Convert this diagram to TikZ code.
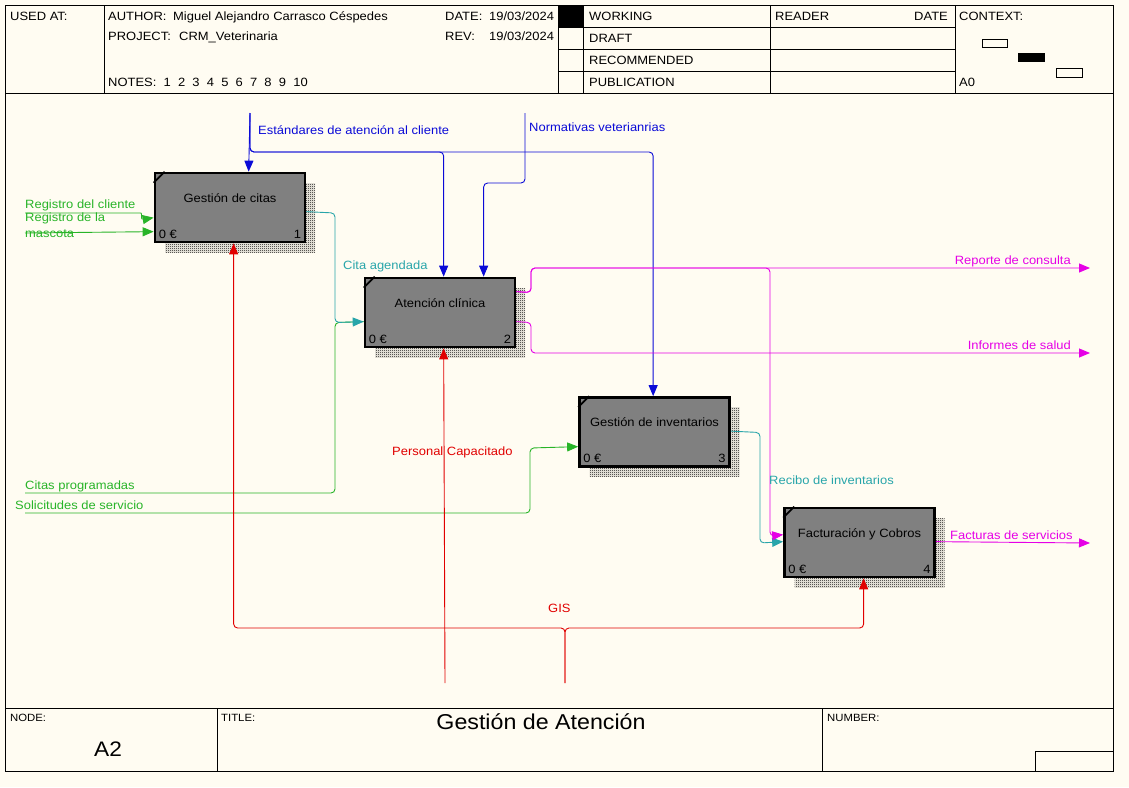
\documentclass[tikz,border=0pt]{standalone}
\usepackage{fontspec}
\setmainfont{Liberation Sans}[FakeStretch=1.08]
\usetikzlibrary{arrows.meta,calc,patterns,patterns.meta}
\definecolor{bgc}{RGB}{255,252,242}
\definecolor{idgreen}{RGB}{40,180,40}
\definecolor{idteal}{RGB}{40,165,170}
\definecolor{idblue}{RGB}{10,10,215}
\definecolor{idmag}{RGB}{230,0,230}
\definecolor{idred}{RGB}{225,0,0}
\definecolor{boxgray}{RGB}{128,128,128}
\pgfdeclarepattern{name=pixcheck, type=uncolored,
  bottom left={\pgfpoint{0pt}{0pt}}, top right={\pgfpoint{2pt}{2pt}},
  tile size={\pgfpoint{2pt}{2pt}},
  code={\pgfpathrectangle{\pgfpoint{0pt}{0pt}}{\pgfpoint{1pt}{1pt}}%
        \pgfpathrectangle{\pgfpoint{1pt}{1pt}}{\pgfpoint{1pt}{1pt}}%
        \pgfusepath{fill}}}
\newcommand{\ProcBox}[5]{%
  \fill[pattern=pixcheck, pattern color=black] (#2-65,#3-24.5) rectangle (#2+85,#3+44.5);
  \node[procbox] (#1) at (#2,#3) {#4};
  \draw[line width=1.8pt] ($(#1.north west)+(0,11)$) -- ($(#1.north west)+(11,0)$);
  \node[anchor=base west] (#1c) at ($(#1.south west)+(5,-5)$) {0 €};
  \node[anchor=base east] (#1n) at ($(#1.south east)+(-5,-5)$) {#5};
}
\begin{document}
\begin{tikzpicture}[x=1pt,y=-1pt,
  every node/.style={font=\fontsize{12}{14}\selectfont, inner sep=0pt},
  hdr/.style={anchor=base west},
  small/.style={anchor=base west, font=\fontsize{10.5}{12}\selectfont},
  procbox/.style={draw=black, line width=2.7pt, fill=boxgray, minimum width=150pt, minimum height=69pt, text height=8pt, text depth=18.4pt},
  conn/.style={line width=0.9pt, rounded corners=4pt},
  tip/.style={-{Triangle[length=11pt,width=9pt]}},
  lbl/.style={anchor=base west}
]
% background and frame
\fill[bgc] (0,0) rectangle (1129,787);
\draw[line width=1pt] (5,5) rectangle (1113,771);
% header
\draw[line width=0.8pt] (5,93) -- (1113,93);
\draw[line width=0.8pt] (104,5) -- (104,93) (558,5) -- (558,93) (583,5) -- (583,93) (770,5) -- (770,93) (955,5) -- (955,93);
\draw[line width=0.8pt] (558,27) -- (955,27) (558,49) -- (955,49) (558,71) -- (955,71);
\fill[black] (558,5) rectangle (583,27);
\draw[line width=0.7pt] (982,39) rectangle (1007,47);
\fill[black] (1018,53) rectangle (1045,62);
\draw[line width=0.7pt] (1056,68) rectangle (1082,77);
\node[hdr] (usedat) at (10,20.5) {USED AT:};
\node[hdr] (author) at (108,20.5) {AUTHOR:};
\node[hdr] (authorv) at (173,20.5) {Miguel Alejandro Carrasco Céspedes};
\node[hdr] (project) at (108,40.5) {PROJECT:};
\node[hdr] (projectv) at (179,40.5) {CRM\_Veterinaria};
\node[hdr] (notes) at (108,86.5) {NOTES:\ \ 1\ \ 2\ \ 3\ \ 4\ \ 5\ \ 6\ \ 7\ \ 8\ \ 9\ \ 10};
\node[hdr] (date) at (445,20.5) {DATE:};
\node[hdr] (datev) at (489,20.5) {19/03/2024};
\node[hdr] (rev) at (445,40.5) {REV:};
\node[hdr] (revv) at (489,40.5) {19/03/2024};
\node[hdr] (working) at (589,20.5) {WORKING};
\node[hdr] (draft) at (589,42.5) {DRAFT};
\node[hdr] (recom) at (589,64.5) {RECOMMENDED};
\node[hdr] (publ) at (589,86.5) {PUBLICATION};
\node[hdr] (reader) at (775,20.5) {READER};
\node[anchor=base east] (rdate) at (948,20.5) {DATE};
\node[hdr] (context) at (959,20.5) {CONTEXT:};
\node[hdr] (azero) at (959,86.5) {A0};
% footer
\draw[line width=0.8pt] (5,708) -- (1113,708);
\draw[line width=0.8pt] (217,708) -- (217,771) (822,708) -- (822,771);
\draw[line width=0.8pt] (1035,751) -- (1035,771) (1035,751) -- (1113,751);
\node[small] (nodel) at (10,721) {NODE:};
\node[small] (titlel) at (221,721) {TITLE:};
\node[small] (numberl) at (827,721) {NUMBER:};
\node[anchor=base, font=\fontsize{21}{24}\selectfont] (nodev) at (108,756.5) {A2};
\node[anchor=base, font=\fontsize{21.5}{24}\selectfont] (titlev) at (541,729) {Gestión de Atención};
% boxes
\ProcBox{b1}{230}{207.5}{Gestión de citas}{1}
\ProcBox{b2}{440}{312.5}{Atención clínica}{2}
\ProcBox{b3}{654.5}{432}{Gestión de inventarios}{3}
\ProcBox{b4}{859.5}{542.5}{Facturación y Cobros}{4}
% free ends
\coordinate (rc) at (25,213);
\coordinate (rm) at (25,233);
\coordinate (cp) at (25,493);
\coordinate (ss) at (25,513);
\coordinate (est) at (250,113);
\coordinate (nor) at (525,113);
\coordinate (pc) at (445,683);
\coordinate (gis) at (565,683);
\coordinate (rep) at (1090,268);
\coordinate (inf) at (1090,353);
\coordinate (fac) at (1090,543);
% inputs (green)
\draw[conn,idgreen,tip] (rc) -- (137,213) .. controls (142,213) and (141,219) .. (146,219) -- ($(b1.north west)+(0,46)$);
\draw[conn,idgreen,tip] (rm) -- ($(b1.north west)+(0,60)$);
\draw[conn,idgreen] (cp) -- (335,493) -- (335,322.5) -- ($(b2.north west)+(0,45)$);
\draw[conn,idgreen,tip] (ss) -- (530,513) -- (530,448) -- ($(b3.north west)+(0,50.5)$);
% teal
\draw[conn,idteal,tip] ($(b1.north east)+(0,40)$) -- (335,213) -- (335,322.5) -- ($(b2.north west)+(0,45)$);
\draw[conn,idteal,tip] ($(b3.north east)+(0,35)$) -- (760,432.5) -- (760,543) -- ($(b4.north west)+(0,35)$);
% controls (blue)
\draw[conn,idblue,tip] (est) -- ($(b1.north west)+(95,0)$);
\draw[conn,idblue,tip] (est) -- (250,152) -| ($(b2.north west)+(80,0)$);
\draw[conn,idblue,tip] (est) -- (250,152) -| ($(b3.north west)+(75,0)$);
\draw[conn,idblue,tip] (nor) -- (525,183) -| ($(b2.north west)+(120,0)$);
% mechanisms (red)
\draw[conn,idred,tip] (pc) -- ($(b2.south west)+(80,0)$);
\draw[conn,idred,tip] (gis) -- (565,628) -| ($(b1.south west)+(80,0)$);
\draw[conn,idred,tip] (gis) -- (565,628) -| ($(b4.south west)+(80.5,0)$);
% outputs (magenta)
\draw[conn,idmag,tip] ($(b2.north east)+(0,15)$) -- (531,292.5) -- (531,268) -- (rep);
\draw[conn,idmag,tip] ($(b2.north east)+(0,15)$) -- (531,292.5) -- (531,268) -- (770,268) -- (770,536) -- ($(b4.north west)+(0,28)$);
\draw[conn,idmag,tip] ($(b2.north east)+(0,45)$) -- (531,322.5) -- (531,353) -- (inf);
\draw[conn,idmag,tip] ($(b4.north east)+(0,35)$) -- (fac);
% labels
\node[lbl,text=idgreen] (lrc) at (25,208.5) {Registro del cliente};
\node[anchor=north west,align=left,text=idgreen,font=\fontsize{12}{16}\selectfont] (lrm) at (25,212.3) {Registro de la\\mascota};
\node[lbl,text=idteal] (lca) at (343,269) {Cita agendada};
\node[lbl,text=idgreen] (lcp) at (25,489) {Citas programadas};
\node[lbl,text=idgreen] (lss) at (15,509) {Solicitudes de servicio};
\node[lbl,text=idred] (lpc) at (392,455) {Personal Capacitado};
\node[lbl,text=idred] (lgis) at (548,612) {GIS};
\node[lbl,text=idblue] (lest) at (258,134) {Estándares de atención al cliente};
\node[lbl,text=idblue] (lnor) at (529,131) {Normativas veterianrias};
\node[anchor=base east,text=idmag] (lrep) at (1071,264) {Reporte de consulta};
\node[anchor=base east,text=idmag] (linf) at (1071,349) {Informes de salud};
\node[lbl,text=idteal] (lrec) at (769,484) {Recibo de inventarios};
\node[lbl,text=idmag] (lfac) at (950,539) {Facturas de servicios};
\end{tikzpicture}
\end{document}
